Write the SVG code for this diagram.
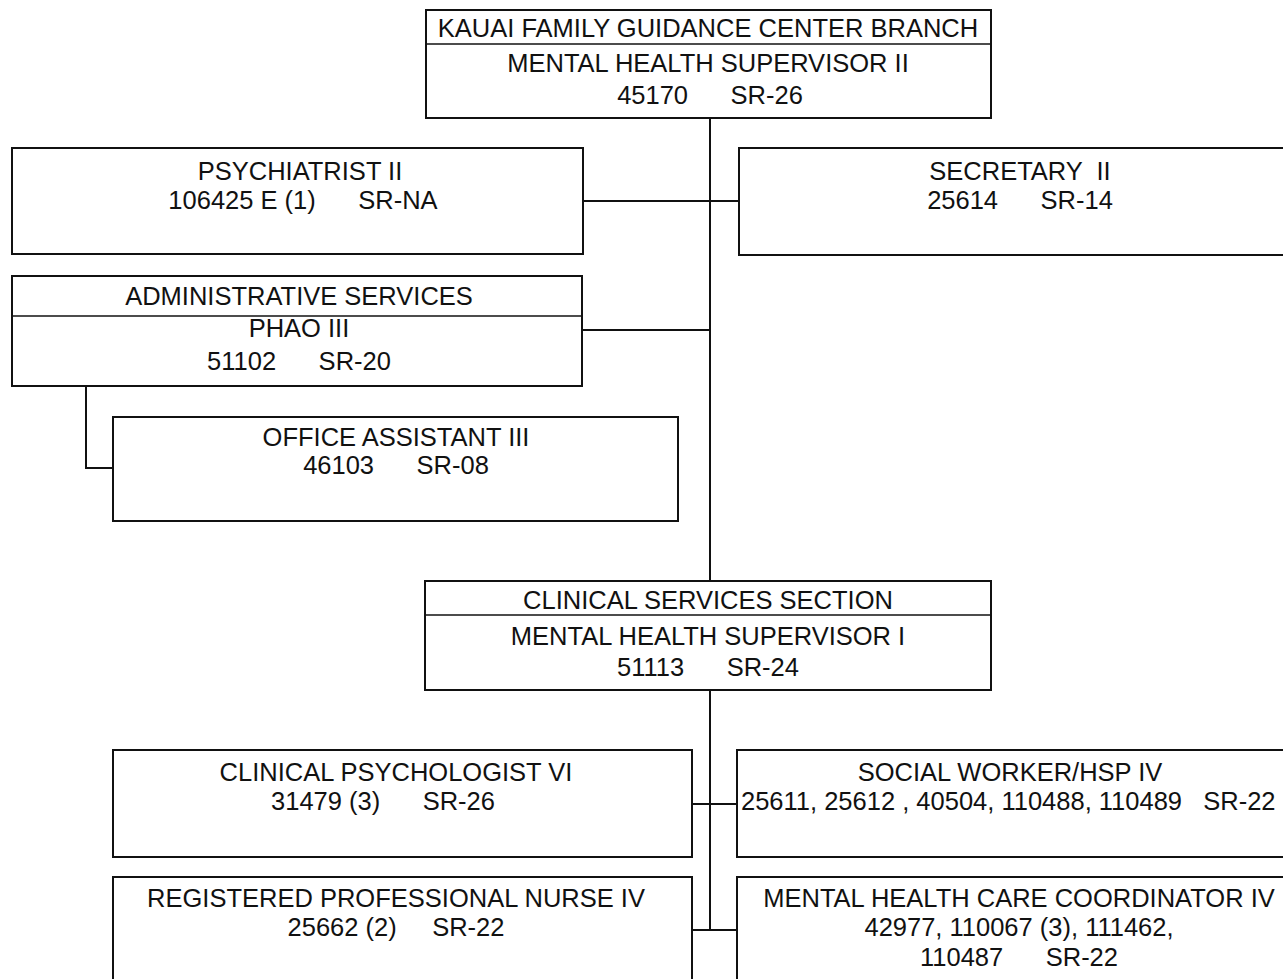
<svg xmlns="http://www.w3.org/2000/svg" width="1283" height="979" viewBox="0 0 1283 979">
  <style>
    .box { fill: #ffffff; stroke: #111111; stroke-width: 2; }
    .rule { stroke: #111111; stroke-width: 1.5; fill: none; }
    .conn { stroke: #111111; stroke-width: 2; fill: none; }
    text { font-family: "Liberation Sans", Arial, sans-serif; font-size: 25.5px; fill: #111111; text-anchor: middle; white-space: pre; }
    .left { text-anchor: start; }
  </style>
  <rect width="1283" height="979" fill="#ffffff"/>

  <!-- connectors -->
  <g id="connectors">
    <line class="conn" x1="710" y1="118" x2="710" y2="581"/>
    <line class="conn" x1="583" y1="201" x2="739" y2="201"/>
    <line class="conn" x1="582" y1="330" x2="710" y2="330"/>
    <polyline class="conn" points="86,386 86,468 113,468"/>
    <line class="conn" x1="710" y1="690" x2="710" y2="930"/>
    <line class="conn" x1="692" y1="804" x2="737" y2="804"/>
    <line class="conn" x1="692" y1="930" x2="737" y2="930"/>
  </g>

  <g id="branch">
    <rect class="box" x="426" y="10" width="565" height="108"/>
    <line class="rule" x1="426" y1="44" x2="991" y2="44"/>
    <text x="708" y="37" xml:space="preserve">KAUAI FAMILY GUIDANCE CENTER BRANCH</text>
    <text x="708" y="72" xml:space="preserve">MENTAL HEALTH SUPERVISOR II</text>
    <text x="710" y="104" xml:space="preserve">45170      SR-26</text>
  </g>

  <g id="psychiatrist">
    <rect class="box" x="12" y="148" width="571" height="106"/>
    <text x="300" y="180" xml:space="preserve">PSYCHIATRIST II</text>
    <text x="303" y="209" xml:space="preserve">106425 E (1)      SR-NA</text>
  </g>

  <g id="secretary">
    <rect class="box" x="739" y="148" width="570" height="107"/>
    <text x="1020" y="180" xml:space="preserve">SECRETARY  II</text>
    <text x="1020" y="209" xml:space="preserve">25614      SR-14</text>
  </g>

  <g id="admin">
    <rect class="box" x="12" y="276" width="570" height="110"/>
    <line class="rule" x1="12" y1="316" x2="582" y2="316"/>
    <text x="299" y="305" xml:space="preserve">ADMINISTRATIVE SERVICES</text>
    <text x="299" y="337" xml:space="preserve">PHAO III</text>
    <text x="299" y="370" xml:space="preserve">51102      SR-20</text>
  </g>

  <g id="office-assistant">
    <rect class="box" x="113" y="417" width="565" height="104"/>
    <text x="396" y="446" xml:space="preserve">OFFICE ASSISTANT III</text>
    <text x="396" y="474" xml:space="preserve">46103      SR-08</text>
  </g>

  <g id="clinical-section">
    <rect class="box" x="425" y="581" width="566" height="109"/>
    <line class="rule" x1="425" y1="615" x2="991" y2="615"/>
    <text x="708" y="609" xml:space="preserve">CLINICAL SERVICES SECTION</text>
    <text x="708" y="645" xml:space="preserve">MENTAL HEALTH SUPERVISOR I</text>
    <text x="708" y="676" xml:space="preserve">51113      SR-24</text>
  </g>

  <g id="psychologist">
    <rect class="box" x="113" y="750" width="579" height="107"/>
    <text x="396" y="781" xml:space="preserve">CLINICAL PSYCHOLOGIST VI</text>
    <text x="383" y="810" xml:space="preserve">31479 (3)      SR-26</text>
  </g>

  <g id="social-worker">
    <rect class="box" x="737" y="750" width="570" height="107"/>
    <text x="1010" y="781" xml:space="preserve">SOCIAL WORKER/HSP IV</text>
    <text class="left" x="741" y="810" xml:space="preserve">25611, 25612 , 40504, 110488, 110489   SR-22</text>
  </g>

  <g id="nurse">
    <rect class="box" x="113" y="877" width="579" height="110"/>
    <text x="396" y="907" xml:space="preserve">REGISTERED PROFESSIONAL NURSE IV</text>
    <text x="396" y="936" xml:space="preserve">25662 (2)     SR-22</text>
  </g>

  <g id="care-coordinator">
    <rect class="box" x="737" y="877" width="570" height="110"/>
    <text x="1019" y="907" xml:space="preserve">MENTAL HEALTH CARE COORDINATOR IV</text>
    <text x="1019" y="936" xml:space="preserve">42977, 110067 (3), 111462,</text>
    <text x="1019" y="966" xml:space="preserve">110487      SR-22</text>
  </g>
</svg>
